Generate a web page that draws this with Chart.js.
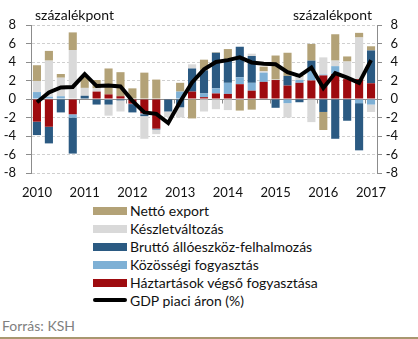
<!DOCTYPE html>
<html lang="hu">
<head>
<meta charset="utf-8">
<title>GDP növekedés</title>
<script src="https://cdn.jsdelivr.net/npm/chart.js@4.4.1/dist/chart.umd.min.js"></script>
<style>
  body { margin: 0; background: #fff; font-family: Lato, 'Open Sans', sans-serif; color: #111; }
  #wrap { position: relative; width: 418px; height: 339px; overflow: hidden; }
  #chart { position: absolute; left: 0; top: 0; }
  .unit { position: absolute; top: 6px; font-size: 14px; line-height: 17px; }
  #unitLeft { left: 35px; }
  #unitRight { right: 46px; }
  #legend { position: absolute; left: 93px; top: 202px; }
  .lg-row { height: 17.9px; display: flex; align-items: center; font-size: 14px; white-space: nowrap; }
  .lg-box { width: 34px; height: 8px; margin-right: 3px; }
  .lg-line { width: 34px; height: 4px; border-radius: 2px; background: #000; margin-right: 3px; }
  #source { position: absolute; left: 2px; top: 317px; font-size: 14px; color: #7f7f7f; }
  #rule { position: absolute; left: 0; right: 0; bottom: 0; height: 2px; background: #a8976f; }
</style>
</head>
<body>
<div id="wrap">
  <canvas id="chart" width="418" height="200"></canvas>
  <div class="unit" id="unitLeft">százalékpont</div>
  <div class="unit" id="unitRight">százalékpont</div>
  <div id="legend"></div>
  <div id="source">Forrás: KSH</div>
  <div id="rule"></div>
</div>
<script>
var quarters = [
    '2010 I', '2010 II', '2010 III', '2010 IV',
    '2011 I', '2011 II', '2011 III', '2011 IV',
    '2012 I', '2012 II', '2012 III', '2012 IV',
    '2013 I', '2013 II', '2013 III', '2013 IV',
    '2014 I', '2014 II', '2014 III', '2014 IV',
    '2015 I', '2015 II', '2015 III', '2015 IV',
    '2016 I', '2016 II', '2016 III', '2016 IV',
    '2017 I'
];

// hozzájárulások, százalékpont
var haztartasok = [-2.45, -3.0, 0.0, -1.65, 0.0, 0.8, 0.5, 0.3, -0.5, -1.55, -3.2, -0.05, 0.0, 0.8, 0.2, 0.6, 0.55, 1.6, 0.9, 1.85, 2.05, 1.45, 1.75, 2.0, 2.55, 2.7, 2.15, 2.15, 1.7];
var kozossegi = [0.75, 0.25, 0.3, -0.35, 0.0, 0.0, -0.1, 0.0, -0.05, -0.1, 0.0, 0.0, 0.8, 0.0, 0.4, 0.55, 1.2, 0.75, 0.85, 1.0, 0.0, -0.45, 0.3, 1.05, 0.1, 0.85, -0.05, -0.45, -0.6];
var brutto = [-1.45, -1.8, -1.45, -3.9, 0.35, -0.6, -0.5, -0.15, -0.9, -0.2, -0.1, -1.3, -0.9, 2.5, 2.5, 3.85, 2.55, 3.3, 2.9, 0.0, -0.95, 1.05, -0.35, 1.1, -1.4, -4.3, -2.3, -5.1, 3.55];
var keszlet = [1.2, 3.9, 2.0, 5.3, 0.85, 0.35, -1.2, -1.2, 0.0, -2.45, -0.5, -0.6, -1.1, 0.45, -1.35, -1.1, -1.2, -0.1, 0.25, 0.15, 0.05, -1.55, 0.35, -2.5, 1.85, 0.6, 1.9, 4.5, -0.8];
var netto = [1.7, 1.05, 0.4, 1.9, 1.2, 0.9, 2.8, 2.6, 1.15, 2.85, 2.1, 0.0, 0.95, -2.1, 1.15, 0.05, 1.1, -1.15, -1.15, 0.5, 2.6, 2.5, 0.1, 1.8, -1.95, 2.85, 0.55, 0.5, 0.45];

// GDP változás, %
var gdp = [-0.35, 0.7, 1.25, 1.3, 2.7, 1.4, 1.45, 1.35, -0.2, -1.45, -1.6, -2.6, -0.3, 1.8, 3.2, 4.0, 4.2, 4.5, 3.95, 3.8, 3.75, 2.9, 2.5, 3.4, 1.2, 2.8, 2.3, 1.75, 4.2];

var tickFont = { family: 'Lato', size: 13 };
var axisGrey = '#8c8c8c';

// nulla vonal és évhatár jelölők
var zeroLine = {
    id: 'zeroLine',
    beforeDatasetsDraw: function (chart) {
        var ctx = chart.ctx;
        var xs = chart.scales.x;
        var area = chart.chartArea;
        var y0 = Math.round(chart.scales.y.getPixelForValue(0)) + 0.5;
        ctx.save();
        ctx.strokeStyle = axisGrey;
        ctx.lineWidth = 1;
        ctx.beginPath();
        ctx.moveTo(area.left, y0);
        ctx.lineTo(area.right, y0);
        for (var i = 4; i < quarters.length; i += 4) {
            var xm = Math.round((xs.getPixelForValue(i - 1) + xs.getPixelForValue(i)) / 2) + 0.5;
            ctx.moveTo(xm, y0);
            ctx.lineTo(xm, y0 + 4);
        }
        ctx.stroke();
        ctx.restore();
    }
};

function barSet(label, data, color) {
    return {
        type: 'bar',
        label: label,
        data: data,
        backgroundColor: color,
        borderWidth: 0,
        barPercentage: 0.68,
        categoryPercentage: 1.0,
        yAxisID: 'y',
        order: 1
    };
}

var chart = new Chart(document.getElementById('chart').getContext('2d'), {
    data: {
        labels: quarters,
        datasets: [
            barSet('Háztartások végső fogyasztása', haztartasok, '#9e0b0f'),
            barSet('Közösségi fogyasztás', kozossegi, '#7eb0d5'),
            barSet('Bruttó állóeszköz-felhalmozás', brutto, '#2b5a82'),
            barSet('Készletváltozás', keszlet, '#d9d9d9'),
            barSet('Nettó export', netto, '#b3a277'),
            {
                type: 'line',
                label: 'GDP piaci áron (%)',
                data: gdp,
                borderColor: '#000',
                borderWidth: 4,
                pointRadius: 0,
                tension: 0,
                yAxisID: 'y2',
                order: 0
            }
        ]
    },
    options: {
        responsive: false,
        animation: false,
        events: [],
        layout: { padding: { left: 0, right: 20, top: 25, bottom: 0 } },
        plugins: {
            legend: { display: false },
            tooltip: { enabled: false }
        },
        scales: {
            x: {
                stacked: true,
                grid: { display: false, drawTicks: false },
                border: { display: false },
                ticks: {
                    autoSkip: false,
                    maxRotation: 0,
                    padding: 12,
                    color: '#111',
                    font: tickFont,
                    callback: function (v, i) {
                        return i % 4 === 0 ? quarters[i].slice(0, 4) : '';
                    }
                },
                afterFit: function (s) { s.height = 27; }
            },
            y: {
                stacked: true,
                min: -8,
                max: 8,
                ticks: { stepSize: 2, autoSkip: false, padding: 10, color: '#111', font: tickFont },
                grid: {
                    color: function (c) { return c.tick && c.tick.value === 0 ? 'rgba(0,0,0,0)' : '#cfcfcf'; },
                    tickColor: axisGrey,
                    tickLength: 5
                },
                border: { color: axisGrey, dash: [3, 2] },
                afterFit: function (s) { s.width = 31; }
            },
            y2: {
                position: 'right',
                min: -8,
                max: 8,
                ticks: { stepSize: 2, autoSkip: false, padding: 4, color: '#111', font: tickFont, crossAlign: 'far' },
                grid: { drawOnChartArea: false, tickColor: axisGrey, tickLength: 5 },
                border: { color: axisGrey },
                afterFit: function (s) { s.width = 21; }
            }
        }
    },
    plugins: [zeroLine]
});

// jelmagyarázat: oszlopok felülről lefelé, majd a GDP vonal
var legendEl = document.getElementById('legend');
var bars = chart.data.datasets.filter(function (d) { return d.type === 'bar'; }).reverse();
var lines = chart.data.datasets.filter(function (d) { return d.type === 'line'; });
bars.concat(lines).forEach(function (d) {
    var row = document.createElement('div');
    row.className = 'lg-row';
    var mark = document.createElement('span');
    if (d.type === 'bar') {
        mark.className = 'lg-box';
        mark.style.background = d.backgroundColor;
    } else {
        mark.className = 'lg-line';
    }
    var txt = document.createElement('span');
    txt.textContent = d.label;
    row.appendChild(mark);
    row.appendChild(txt);
    legendEl.appendChild(row);
});
</script>
</body>
</html>
